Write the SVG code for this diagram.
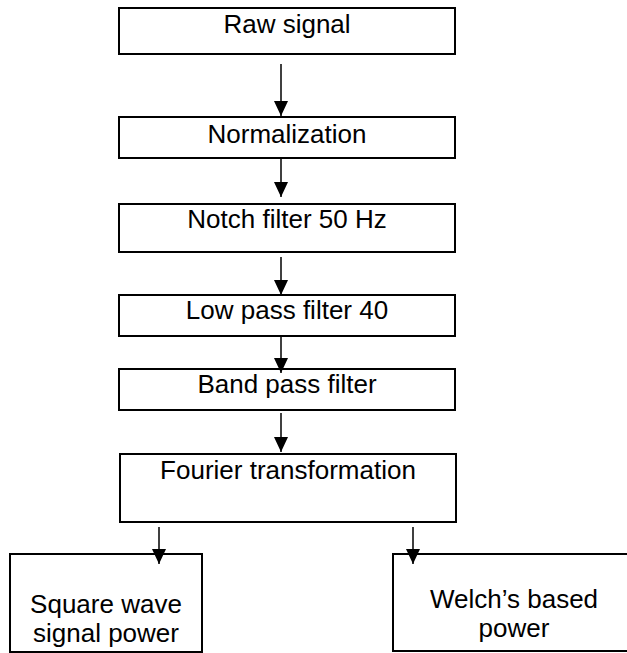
<svg xmlns="http://www.w3.org/2000/svg" width="627" height="653" viewBox="0 0 627 653">
  <style>
    .box { fill: #ffffff; stroke: #000000; stroke-width: 2; }
    .lbl { font-family: "Liberation Sans", Arial, Helvetica, sans-serif; font-size: 26px; fill: #000000; text-anchor: middle; }
    .arrow { stroke: #000000; stroke-width: 1.5; fill: none; marker-end: url(#head); }
  </style>
  <defs>
    <marker id="head" viewBox="0 0 15 14" refX="15" refY="7" markerWidth="15" markerHeight="14" markerUnits="userSpaceOnUse" orient="auto">
      <path d="M0,0 L15,7 L0,14 z" fill="#000000"/>
    </marker>
  </defs>
  <rect width="627" height="653" fill="#ffffff"/>

  <g id="raw-signal">
    <rect class="box" x="119" y="8" width="336" height="46"/>
    <text class="lbl" x="287" y="33">Raw signal</text>
  </g>
  <g id="normalization">
    <rect class="box" x="119" y="117" width="336" height="41"/>
    <text class="lbl" x="287" y="143">Normalization</text>
  </g>
  <g id="notch-filter">
    <rect class="box" x="119" y="204" width="336" height="48"/>
    <text class="lbl" x="287" y="228">Notch filter 50 Hz</text>
  </g>
  <g id="low-pass">
    <rect class="box" x="119" y="295" width="336" height="41"/>
    <text class="lbl" x="287" y="319">Low pass filter 40</text>
  </g>
  <g id="band-pass">
    <rect class="box" x="119" y="369" width="336" height="41"/>
    <text class="lbl" x="287" y="393">Band pass filter</text>
  </g>
  <g id="fourier">
    <rect class="box" x="120" y="454" width="336" height="68"/>
    <text class="lbl" x="288" y="479">Fourier transformation</text>
  </g>
  <g id="square-wave">
    <rect class="box" x="10" y="554" width="192" height="98"/>
    <text class="lbl" x="106" y="613">Square wave</text>
    <text class="lbl" x="106" y="642">signal power</text>
  </g>
  <g id="welch">
    <rect class="box" x="393" y="554" width="250" height="97"/>
    <text class="lbl" x="514" y="608">Welch’s based</text>
    <text class="lbl" x="514" y="637">power</text>
  </g>

  <g id="connectors">
    <line class="arrow" x1="281" y1="64" x2="281" y2="116"/>
    <line class="arrow" x1="281" y1="158" x2="281" y2="197"/>
    <line class="arrow" x1="281" y1="257" x2="281" y2="295"/>
    <line class="arrow" x1="281" y1="336" x2="281" y2="373"/>
    <line class="arrow" x1="281" y1="413" x2="281" y2="452"/>
    <line class="arrow" x1="159" y1="527" x2="159" y2="564"/>
    <line class="arrow" x1="413" y1="527" x2="413" y2="564"/>
  </g>
</svg>
